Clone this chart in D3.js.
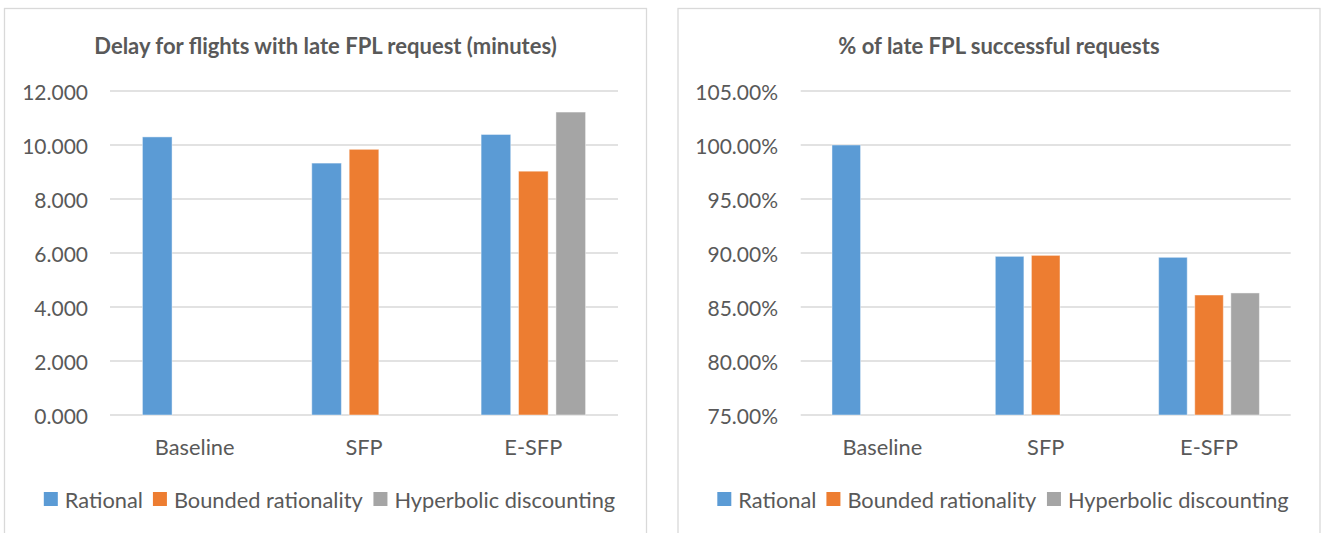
<!DOCTYPE html>
<html>
<head>
<meta charset="utf-8">
<script src="https://cdn.jsdelivr.net/npm/d3@7/dist/d3.min.js"></script>
<style>
  html, body { margin: 0; padding: 0; background: #ffffff; }
  svg { display: block; }
  text { font-family: Lato, "Open Sans", sans-serif; fill: #595959; }
</style>
</head>
<body>
<svg id="chart" width="1322" height="533"></svg>
<script>
// ---- data ----
const categories = ["Baseline", "SFP", "E-SFP"];
const seriesNames = ["Rational", "Bounded rationality", "Hyperbolic discounting"];
const seriesColors = ["#5B9BD5", "#ED7D31", "#A5A5A5"];

const delayTitle = "Delay for flights with late FPL request (minutes)";
const delayRational = [10.30, 9.33, 10.39];
const delayBounded = [null, 9.84, 9.03];
const delayHyperbolic = [null, null, 11.22];
const delayTicks = [0, 2, 4, 6, 8, 10, 12];

const successTitle = "% of late FPL successful requests";
const successRational = [1.0000, 0.8969, 0.8960];
const successBounded = [null, 0.8978, 0.8611];
const successHyperbolic = [null, null, 0.8630];
const successTicks = [0.75, 0.80, 0.85, 0.90, 0.95, 1.00, 1.05];

// ---- drawing ----
const svg = d3.select("#chart");

function drawPanel(opt) {
  const g = svg.append("g");
  // panel border
  g.append("rect")
    .attr("x", opt.px).attr("y", 8.5)
    .attr("width", 642).attr("height", 560)
    .attr("fill", "#ffffff")
    .attr("stroke", "#d9d9d9").attr("stroke-width", 1.3);

  const x0 = d3.scaleBand().domain(categories).range([opt.x0, opt.x1]).paddingInner(0).paddingOuter(0);
  const y = d3.scaleLinear().domain(opt.domain).range([415, 91]);

  // title
  g.append("text")
    .attr("x", opt.px + 321).attr("y", 45)
    .attr("text-anchor", "middle").attr("dominant-baseline", "central")
    .style("font-weight", "bold").style("font-size", "22px")
    .text(opt.title);

  // gridlines
  g.append("g").selectAll("line").data(opt.ticks).join("line")
    .attr("x1", opt.x0).attr("x2", opt.x1)
    .attr("y1", d => y(d)).attr("y2", d => y(d))
    .attr("stroke", "#d9d9d9").attr("stroke-width", 1.5);

  // y axis labels
  const yAxis = d3.axisLeft(y).tickValues(opt.ticks).tickFormat(opt.fmt).tickSize(0).tickPadding(0);
  const ya = g.append("g").attr("transform", `translate(${opt.labelRight},0)`).call(yAxis);
  ya.select(".domain").remove();
  ya.selectAll("text").style("font-size", "21px").attr("fill", "#595959")
    .attr("dy", null).attr("dominant-baseline", "central").style("font-family", "Lato, sans-serif");

  // x axis labels
  const xAxis = d3.axisBottom(x0).tickSize(0).tickPadding(0);
  const xa = g.append("g").attr("transform", "translate(0,446)").call(xAxis);
  xa.select(".domain").remove();
  xa.selectAll("text").style("font-size", "21.8px").attr("fill", "#595959")
    .attr("y", 0).attr("dy", null).attr("dominant-baseline", "central").style("font-family", "Lato, sans-serif");

  // bars
  const bw = x0.bandwidth();
  const barW = bw * 0.175;
  const step = bw * 0.221;
  const x1 = d3.scaleOrdinal().domain([0, 1, 2]).range([-step - barW / 2, -barW / 2, step - barW / 2]);
  const rows = [];
  opt.series.forEach((vals, si) => {
    vals.forEach((v, ci) => { if (v !== null) rows.push({ si, ci, v }); });
  });
  g.append("g").selectAll("rect").data(rows).join("rect")
    .attr("x", d => x0(categories[d.ci]) + bw / 2 + x1(d.si))
    .attr("width", barW)
    .attr("y", d => y(d.v))
    .attr("height", d => y(opt.domain[0]) - y(d.v))
    .attr("fill", d => seriesColors[d.si])
    .attr("stroke", "#ffffff").attr("stroke-opacity", 0.45).attr("stroke-width", 1);

  // legend
  const lg = g.append("g");
  const items = lg.selectAll("g").data(seriesNames).join("g");
  items.append("rect").attr("width", 14).attr("height", 14).attr("y", -7)
    .attr("fill", (d, i) => seriesColors[i]);
  items.append("text").attr("x", 21).attr("y", 0).attr("dominant-baseline", "central")
    .style("font-size", "21.8px").text(d => d);
  let cx = 0;
  items.each(function () {
    const w = this.getBBox().width;
    d3.select(this).attr("transform", `translate(${cx},0)`);
    cx += w + 10;
  });
  const total = cx - 10;
  lg.attr("transform", `translate(${opt.px + 321 + 4 - total / 2},499)`);
}

drawPanel({
  px: 4.5, x0: 110, x1: 618, labelRight: 88,
  domain: [0, 12], ticks: delayTicks, fmt: d3.format(".3f"),
  title: delayTitle,
  series: [delayRational, delayBounded, delayHyperbolic]
});

drawPanel({
  px: 678, x0: 800.7, x1: 1290.7, labelRight: 778,
  domain: [0.75, 1.05], ticks: successTicks, fmt: d3.format(".2%"),
  title: successTitle,
  series: [successRational, successBounded, successHyperbolic]
});
</script>
</body>
</html>
